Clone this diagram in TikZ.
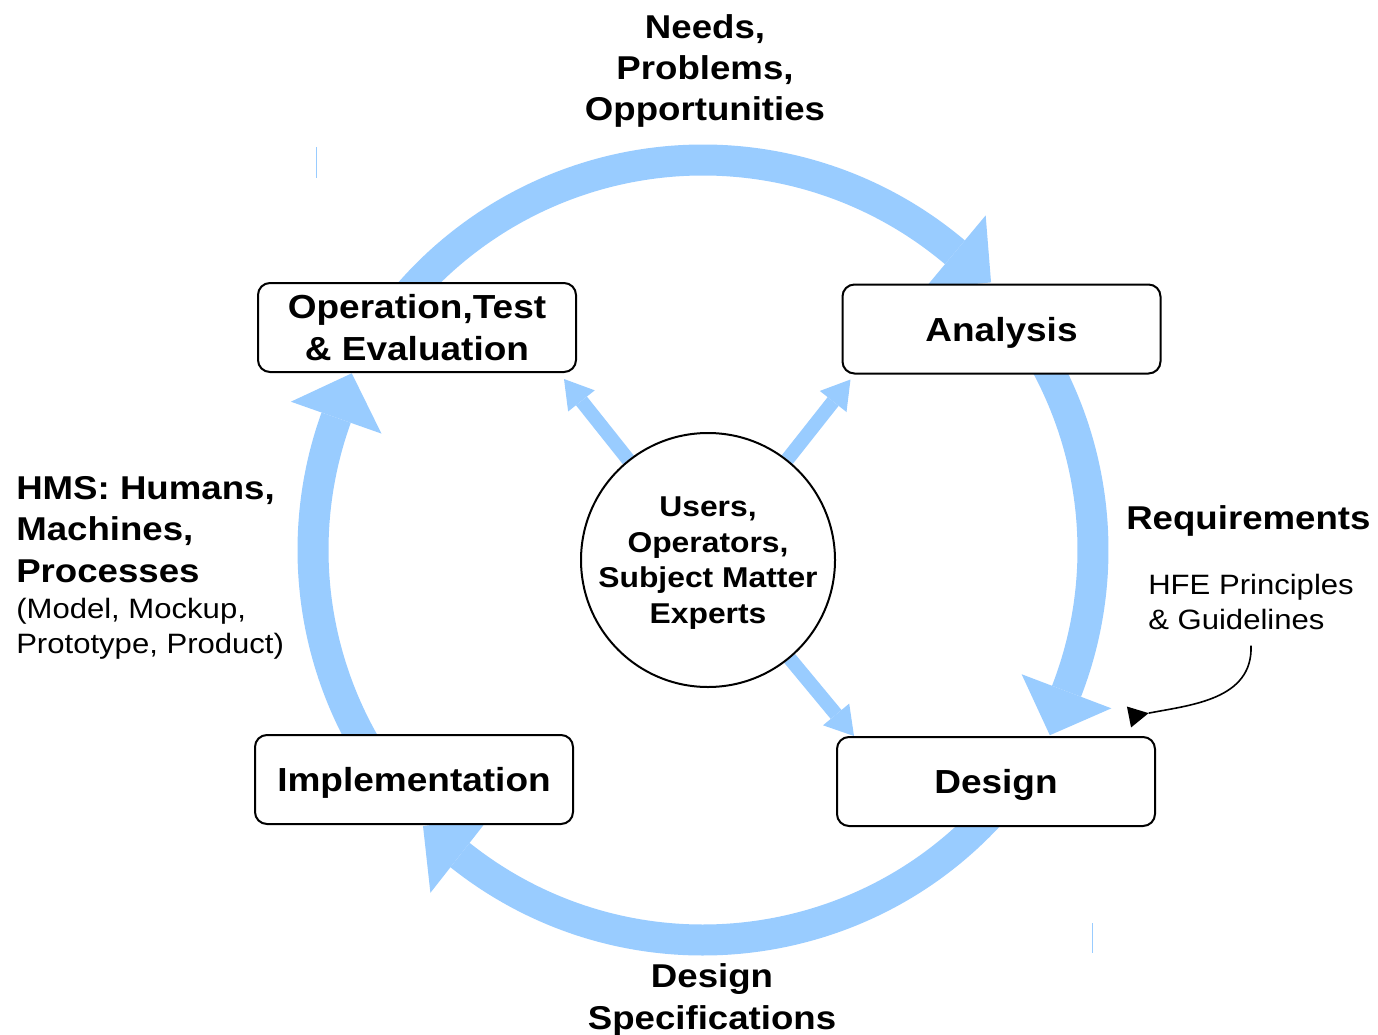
\documentclass[tikz,border=0pt]{standalone}
\usepackage{fontspec}
\setmainfont{Liberation Sans}[FakeStretch=1.11]
\usetikzlibrary{arrows.meta,calc,backgrounds}
\definecolor{cycblue}{HTML}{99CCFF}
\newcommand\fBig{\fontsize{24.75pt}{31pt}\selectfont\bfseries}
\newcommand\fBox{\fontsize{25pt}{31.5pt}\selectfont\bfseries}
\newcommand\fCirc{\fontsize{21.5pt}{26.8pt}\selectfont\bfseries}
\newcommand\fReg{\fontsize{21pt}{26.25pt}\selectfont}
\begin{document}
\begin{tikzpicture}[x=0.75pt,y=0.75pt,
  stagebox/.style={draw, line width=1.5pt, rounded corners=9pt, fill=white,
    minimum width=238.5pt, minimum height=66.75pt, align=center, font=\fBox,
    inner sep=0pt, text depth=0pt},
  hub/.style={circle, draw, line width=1.5pt, fill=white, minimum size=190.5pt,
    inner sep=0pt, align=center, font=\fCirc, text depth=0pt},
  boldlbl/.style={font=\fBig, inner sep=0pt},
  reglbl/.style={font=\fReg, inner sep=0pt},
  bigarrow/.style={cycblue, line width=23.25pt,
    -{Triangle[width=72pt,length=35.25pt,line width=0pt]}},
  smallarrow/.style={cycblue, line width=10.5pt,
    -{Triangle[width=25.5pt,length=21pt,line width=0pt]}},
  thinarrow/.style={black, line width=1.2pt,
    -{Triangle[reversed,width=16pt,length=15pt,line width=0pt]}}
]
\useasboundingbox (0,0) rectangle (1378,-1035);

% nodes
\node[stagebox] (op) at (417,-327.5) {Operation,Test\\\& Evaluation};
\node[stagebox] (analysis) at (1001.5,-329) {Analysis};
\node[stagebox] (design) at (996,-781.5) {Design};
\node[stagebox] (impl) at (414,-779.5) {Implementation};
\node[hub] (users) at (708,-560) {Users,\\Operators,\\Subject Matter\\Experts};

\node[boldlbl, align=center] (needs) at (705,-71) {Needs,\\Problems,\\Opportunities};
\node[boldlbl, anchor=west] (req) at (1126,-521) {Requirements};
\node[reglbl, anchor=west, align=left] (hfe) at (1148,-601.5) {HFE Principles\\\& Guidelines};
\node[boldlbl, anchor=west, align=left] (hms) at (16,-529.5) {HMS: Humans,\\Machines,\\Processes};
\node[reglbl, anchor=west, align=left] (model) at (16,-628.5) {(Model, Mockup,\\Prototype, Product)};
\node[boldlbl, align=center] (specs) at (712,-1000) {Design\\Specifications};

\coordinate (C) at (703,-550);
\coordinate (hfeend) at (1129,-717);

\begin{scope}[on background layer]
  \fill[white] (0,0) rectangle (1378,-1035);
  % cycle arcs
  \draw[bigarrow] ($(C)+(145:292.5pt)$) arc[start angle=145, end angle=50.2, radius=292.5pt] -- ++(-39.8:50);
  \draw[bigarrow] ($(C)+(32:292.5pt)$) arc[start angle=32, end angle=-20.8, radius=292.5pt] -- ++(-110.8:50);
  \draw[bigarrow] ($(C)+(-40:292.5pt)$) arc[start angle=-40, end angle=-128.1, radius=292.5pt] -- ++(141.9:50);
  \draw[bigarrow] ($(C)+(215:292.5pt)$) arc[start angle=215, end angle=160.6, radius=292.5pt] -- ++(70.6:50);
  % hub arrows
  \draw[smallarrow] (users) -- ([shift={(-13,-6)}]op.south east);
  \draw[smallarrow] (users) -- ([shift={(9,-5)}]analysis.south west);
  \draw[smallarrow] (users) -- ([shift={(18,0)}]design.north west);
\end{scope}

% stray marks
\draw[cycblue, line width=0.75pt] (316.5,-147) -- (316.5,-178);
\draw[cycblue, line width=0.75pt] (1092.5,-923) -- (1092.5,-953);

% HFE pointer
\draw[thinarrow] ([yshift=-12pt]hfe.south) .. controls (1253,-700) and (1190,-705) .. (hfeend);
\end{tikzpicture}
\end{document}
